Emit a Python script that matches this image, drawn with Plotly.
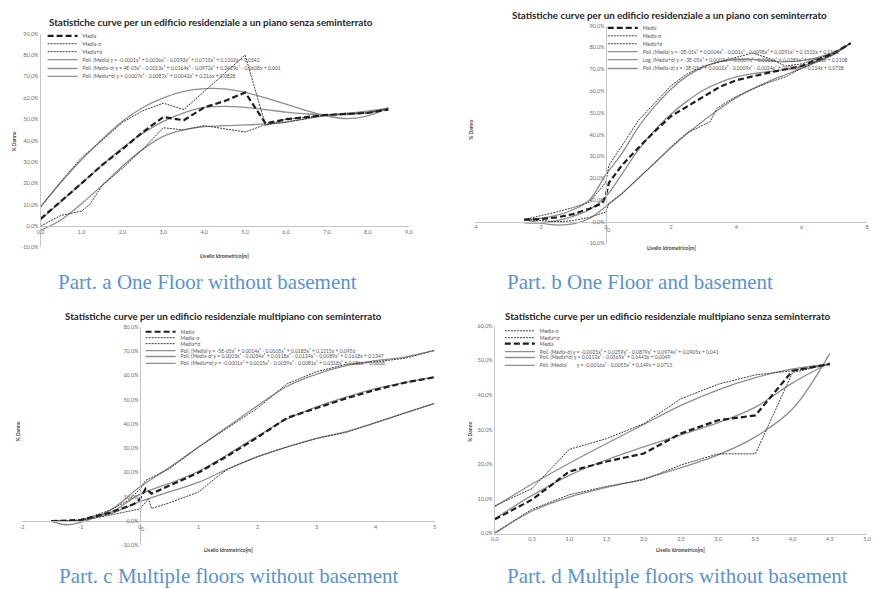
import plotly.graph_objects as go

# ---------------------------------------------------------------- data (% Danno)
# Part a
A_X_MEDIA = [0, 0.5, 1, 1.5, 2, 2.5, 3, 3.5, 4, 4.5, 5, 5.5, 6, 7, 8, 8.5]
A_MEDIA = [3.4, 11.5, 20, 28.5, 36, 44, 51, 49.5, 55.5, 58.5, 62.5, 48, 50, 52, 53, 54.5]
A_X_PLUS = [0, 0.5, 1, 1.5, 2, 2.5, 3, 3.5, 5, 5.5, 6, 7, 8, 8.5]
A_PLUS = [9, 21, 32, 40, 48.5, 54, 57.5, 54.5, 80, 47, 50, 52, 53, 55]
A_X_MINUS = [0, 0.5, 1, 1.2, 1.5, 2, 2.5, 3, 3.5, 4, 5, 5.5, 6, 7, 8, 8.5]
A_MINUS = [0, 5, 7, 10, 19, 27, 36, 46, 45, 47, 44, 47.5, 48.5, 52, 53, 55]
A_X_FIT = [0, 0.5, 1, 1.5, 2, 2.5, 3, 3.5, 4, 4.5, 5, 5.5, 6, 6.5, 7, 7.5, 8, 8.5]
A_FIT_MEDIA = [3, 11.5, 20, 28.5, 36.5, 43.5, 49, 53, 55.5, 56, 55.5, 54.5, 53.3, 52.5, 52, 52.2, 53, 54.5]
A_FIT_PLUS = [9, 20.5, 31, 40.5, 49, 55.5, 60, 63, 64.3, 64.2, 62.5, 60, 57, 54, 51.5, 50.3, 51.5, 55.5]
A_FIT_MINUS = [-2, 3, 10.5, 19, 28, 36, 42, 45, 46.5, 47, 47.3, 47.8, 48.8, 50.3, 51.8, 52.8, 53.8, 55]

# Part b
B_X_MEDIA = [-2.5, -2, -1.5, -1, -0.5, -0.1, 0, 0.1, 0.5, 1, 1.5, 2, 2.5, 3, 3.5, 4, 5, 6, 7, 7.5]
B_MEDIA = [1, 1.2, 2, 3.5, 6, 8.5, 12, 18, 26, 34, 41.5, 48.5, 53, 57.5, 62, 65, 68.5, 71.5, 77.5, 82]
B_X_PLUS = [-2.5, -2, -1.5, -1, -0.5, 0, 0.1, 0.5, 1, 1.5, 2, 2.5, 3, 3.5, 4, 4.5, 5, 5.5, 6, 7, 7.5]
B_PLUS = [1, 2.7, 4.5, 6.5, 9, 18, 26, 35, 46.5, 54.5, 62.5, 68, 71.5, 73.5, 75.5, 77.5, 75, 71.5, 72.5, 77.5, 82]
B_X_MINUS = [-2.5, -2, -1.5, -1, -0.5, 0, 0.1, 0.5, 1, 1.5, 2, 2.5, 2.8, 3.2, 3.4, 3.7, 4, 4.5, 5, 5.5, 6, 7, 7.5]
B_MINUS = [1, 0.5, 0, 0.5, 2, 4.5, 8.5, 13, 20, 27, 34.5, 41, 43, 46, 52, 55, 57.5, 61, 64, 66.5, 70.5, 77, 82]
B_X_FIT = [-2.5, -2, -1.5, -1, -0.5, 0, 0.5, 1, 1.5, 2, 2.5, 3, 3.5, 4, 4.5, 5, 5.5, 6, 6.5, 7, 7.5]
B_FIT_MEDIA = [-0.5, -0.5, 0.5, 2.5, 5.5, 11.5, 22, 33, 42, 49.5, 55.5, 60.5, 64, 66.5, 68, 69, 70, 71.5, 74, 77.5, 82]
B_FIT_PLUS = [1, 1.5, 3, 5.5, 10, 21.5, 31.5, 43.5, 53, 61, 67, 71, 73.5, 74.5, 74.5, 74, 73.5, 74, 75.5, 78, 82]
B_FIT_MINUS = [1, -0.5, -1.5, -1, 1.5, 7, 13, 20, 27, 34, 40.5, 46.5, 52, 57, 61, 64.5, 67.5, 70.5, 73.5, 77, 82]

# Part c
C_X_MEDIA = [-1.5, -1, -0.5, -0.1, 0, 0.1, 0.2, 0.5, 1, 1.5, 2, 2.5, 3, 3.5, 4, 4.5, 5]
C_MEDIA = [0, 0.5, 3.5, 7, 9, 13.3, 11.3, 14.5, 20, 27, 34.5, 42.5, 46.5, 50.5, 54, 57, 59.2]
C_X_PLUS = [-1.5, -1, -0.5, -0.2, 0, 0.1, 0.5, 1, 1.5, 2, 2.5, 2.7, 3, 3.5, 4, 4.5, 5]
C_PLUS = [0, 0.4, 4.5, 8.5, 13, 16.7, 21.5, 30.5, 38.5, 46.5, 56.5, 58.5, 61.5, 64.5, 65.5, 67, 70.2]
C_X_MINUS = [-1.5, -1, -0.5, 0, 0.15, 0.2, 0.5, 1, 1.3, 1.5, 2, 2.5, 3, 3.5, 4, 4.5, 5]
C_MINUS = [0, 0.3, 2.5, 5, 9.2, 5.2, 7.5, 12, 18, 21.5, 26.5, 30.5, 34, 36.5, 40.5, 44.5, 48.4]
C_X_FIT = [-1.5, -1.25, -1, -0.5, 0, 0.5, 1, 1.5, 2, 2.5, 3, 3.5, 4, 4.5, 5]
C_FIT_MEDIA = [0, 0, 0.5, 3.5, 11, 15.5, 20.5, 27.5, 35, 42, 47, 51, 54.5, 57, 59.2]
C_FIT_PLUS = [0, -1.5, -0.5, 4.5, 14, 22, 30.5, 39, 47.5, 55.5, 60.5, 64, 66, 67.5, 70.2]
C_FIT_MINUS = [0, 0, 0.3, 3, 8, 12, 16, 21.5, 26.5, 30.5, 34, 36.8, 40.5, 44.5, 48.4]

# Part d
D_X = [0, 0.5, 1, 1.5, 2, 2.5, 3, 3.5, 4, 4.5]
D_MEDIA = [4.1, 9.8, 17.9, 20.8, 23.1, 28.9, 32.7, 34.1, 47, 48.9]
D_PLUS = [8, 13, 24.3, 27.4, 31.7, 38.9, 43.1, 45.8, 47, 48.9]
D_MINUS = [0.3, 7, 11.2, 13.6, 15.5, 19.8, 23, 23, 46.5, 48.9]
D_FIT_MEDIA = [4.3, 11, 16.8, 21.3, 25, 28.5, 32, 36.5, 43.5, 49.3]
D_FIT_PLUS = [7.8, 14.3, 20.3, 26, 31.5, 37, 41.5, 45, 47.5, 49]
D_FIT_MINUS = [0, 6.5, 10.5, 13.3, 15.8, 19, 22.7, 27.9, 36, 52]

# tick labels
A_X_TICKS = [0, 1, 2, 3, 4, 5, 6, 7, 8, 9]
A_X_LABELS = ["0,0", "1,0", "2,0", "3,0", "4,0", "5,0", "6,0", "7,0", "8,0", "9,0"]
B_X_TICKS = [-4, -2, 0, 2, 4, 6, 8]
B_X_LABELS = ["-4", "-2", "0", "2", "4", "6", "8"]
C_X_TICKS = [-2, -1, 0, 1, 2, 3, 4, 5]
C_X_LABELS = ["-2", "-1", "0", "1", "2", "3", "4", "5"]
D_X_TICKS = [0, 0.5, 1, 1.5, 2, 2.5, 3, 3.5, 4, 4.5, 5]
D_X_LABELS = ["0,0", "0,5", "1,0", "1,5", "2,0", "2,5", "3,0", "3,5", "4,0", "4,5", "5,0"]
Y90_TICKS = [-10, 0, 10, 20, 30, 40, 50, 60, 70, 80, 90]
Y90_LABELS = ["-10,0%", "0,0%", "10,0%", "20,0%", "30,0%", "40,0%", "50,0%",
              "60,0%", "70,0%", "80,0%", "90,0%"]
Y80_TICKS = [-10, 0, 10, 20, 30, 40, 50, 60, 70, 80]
Y80_LABELS = ["-10,0%", "0,0%", "10,0%", "20,0%", "30,0%", "40,0%", "50,0%",
              "60,0%", "70,0%", "80,0%"]
Y60_TICKS = [0, 10, 20, 30, 40, 50, 60]
Y60_LABELS = ["0,0%", "10,0%", "20,0%", "30,0%", "40,0%", "50,0%", "60,0%"]

# text
TITLES = [
    "Statistiche curve per un edificio residenziale a un piano senza seminterrato",
    "Statistiche curve per un edificio residenziale a un piano con seminterrato",
    "Statistiche curve per un edificio residenziale multipiano con seminterrato",
    "Statistiche curve per un edificio residenziale multipiano senza seminterrato",
]
CAPTIONS = [
    "Part. a One Floor without basement",
    "Part. b One Floor and basement",
    "Part. c Multiple floors without basement",
    "Part. d Multiple floors without basement",
]
X_TITLE = "Livello Idrometrico[m]"
Y_TITLE = "% Danno"

EQ_A = ["y = -0,0001x⁵ + 0,0036x⁴ - 0,0293x³ + 0,0715x² + 0,1202x + 0,0342",
        "y = 4E-05x⁶ - 0,0013x⁵ + 0,0164x⁴ - 0,0972x³ + 0,2419x² - 0,0608x + 0,001",
        "y = 0,0007x⁴ - 0,0087x³ + 0,0042x² + 0,216x + 0,0828"]
EQ_B = ["y = -3E-05x⁶ + 0,0004x⁵ - 0,001x⁴ - 0,0098x³ + 0,0291x² + 0,1522x + 0,1148",
        "y = -3E-05x⁶ + 0,0003x⁵ - 0,0007x⁴ - 0,0066x³ + 0,0285x² + 0,1856x + 0,2108",
        "y = -2E-05x⁶ + 0,0002x⁵ - 0,0009x⁴ - 0,0024x³ + 0,0256x² + 0,114x + 0,0728"]
EQ_C = ["y = -5E-05x⁶ + 0,0014x⁵ - 0,0105x⁴ + 0,0183x³ + 0,1215x + 0,0956",
        "y = 0,0003x⁶ - 0,0034x⁵ + 0,0118x⁴ - 0,0124x³ - 0,0089x² + 0,1618x + 0,1347",
        "y = -0,0001x⁶ + 0,0015x⁵ - 0,0039x⁴ - 0,0081x³ + 0,0318x² + 0,086x + 0,0668"]
EQ_D = ["y = -0,0025x⁵ + 0,0259x⁴ - 0,0879x³ + 0,0974x² + 0,0905x + 0,041",
        "y = 0,0112x³ - 0,0569x² + 0,1443x + 0,0049",
        "y = -0,0016x³ - 0,0055x² + 0,149x + 0,0715"]

# ---------------------------------------------------------------- styling
W, H = 874, 589
FONT = "Lato"
TICK_SIZE = 5.5
STYLES = {
    "media": dict(color="#1e1e1e", width=2.2, dash="6px,3px"),
    "sigma": dict(color="#3c3c3c", width=1.0, dash="2px,1px"),
    "fit": dict(color="#8e8e8e", width=1.3),
}

panels = [
    dict(xdom=(37, 409), ydom=(247, 31), xr=(0, 9), yr=(-10, 90),
         xt=A_X_TICKS, xl=A_X_LABELS, yt=Y90_TICKS, yl=Y90_LABELS,
         title_xy=(209, 19), cap_xy=(206, 282), xtitle_xy=(223, 256), ytitle_xy=(10, 140),
         leg_x=44, leg_y=[33, 41, 49, 57, 66, 74], leg_font=5,
         series=[
             ("Media", A_X_MEDIA, A_MEDIA, "media"),
             ("Media-σ", A_X_MINUS, A_MINUS, "sigma"),
             ("Media+σ", A_X_PLUS, A_PLUS, "sigma"),
             ("Poli. (Media) " + EQ_A[0], A_X_FIT, A_FIT_MEDIA, "fit"),
             ("Poli. (Media-σ) " + EQ_A[1], A_X_FIT, A_FIT_MINUS, "fit"),
             ("Poli. (Media+σ) " + EQ_A[2], A_X_FIT, A_FIT_PLUS, "fit"),
         ]),
    dict(xdom=(476, 872), ydom=(243, 23), xr=(-4, 8), yr=(-10, 90),
         xt=B_X_TICKS, xl=B_X_LABELS, yt=Y90_TICKS, yl=Y90_LABELS,
         title_xy=(672, 12.5), cap_xy=(643, 282), xtitle_xy=(674, 248), ytitle_xy=(472, 128),
         leg_x=610, leg_y=[25, 33, 41, 49, 57, 66], leg_font=5,
         series=[
             ("Media", B_X_MEDIA, B_MEDIA, "media"),
             ("Media-σ", B_X_MINUS, B_MINUS, "sigma"),
             ("Media+σ", B_X_PLUS, B_PLUS, "sigma"),
             ("Poli. (Media) " + EQ_B[0], B_X_FIT, B_FIT_MEDIA, "fit"),
             ("Log. (Media+σ) " + EQ_B[1], B_X_FIT, B_FIT_PLUS, "fit"),
             ("Poli. (Media-σ) " + EQ_B[2], B_X_FIT, B_FIT_MINUS, "fit"),
         ]),
    dict(xdom=(18, 435), ydom=(548, 327), xr=(-2, 5), yr=(-10, 80),
         xt=C_X_TICKS, xl=C_X_LABELS, yt=Y80_TICKS, yl=Y80_LABELS,
         title_xy=(222, 316), cap_xy=(227, 579), xtitle_xy=(227, 553), ytitle_xy=(14, 433),
         leg_x=143, leg_y=[332, 338, 344, 351, 357, 364], leg_font=5,
         series=[
             ("Media", C_X_MEDIA, C_MEDIA, "media"),
             ("Media-σ", C_X_MINUS, C_MINUS, "sigma"),
             ("Media+σ", C_X_PLUS, C_PLUS, "sigma"),
             ("Poli. (Media) " + EQ_C[0], C_X_FIT, C_FIT_MEDIA, "fit"),
             ("Poli. (Media-σ) " + EQ_C[1], C_X_FIT, C_FIT_MINUS, "fit"),
             ("Poli. (Media+σ) " + EQ_C[2], C_X_FIT, C_FIT_PLUS, "fit"),
         ]),
    dict(xdom=(496, 872), ydom=(536, 326), xr=(0, 5), yr=(0, 60),
         xt=D_X_TICKS, xl=D_X_LABELS, yt=Y60_TICKS, yl=Y60_LABELS,
         title_xy=(671, 316), cap_xy=(681, 579), xtitle_xy=(684, 553), ytitle_xy=(470, 433),
         leg_x=506, leg_y=[331, 338, 344, 352, 358, 366], leg_font=5,
         series=[
             ("Media-σ", D_X, D_MINUS, "sigma"),
             ("Media+σ", D_X, D_PLUS, "sigma"),
             ("Media", D_X, D_MEDIA, "media"),
             ("Poli. (Media-σ) " + EQ_D[0], D_X, D_FIT_MINUS, "fit"),
             ("Poli. (Media+σ) " + EQ_D[1], D_X, D_FIT_PLUS, "fit"),
             ("Poli. (Media)        " + EQ_D[2], D_X, D_FIT_MEDIA, "fit"),
         ]),
]

fig = go.Figure()
layout = dict(
    width=W, height=H, autosize=False,
    margin=dict(l=0, r=0, t=0, b=0, pad=0),
    paper_bgcolor="white", plot_bgcolor="white",
    font=dict(family=FONT, size=6, color="#404040"),
    showlegend=True,
)
annotations = []
leg_count = 0

for i, p in enumerate(panels, start=1):
    suf = "" if i == 1 else str(i)
    xref, yref = "x" + suf, "y" + suf
    xd = [p["xdom"][0] / W, p["xdom"][1] / W]
    yd = [1 - p["ydom"][0] / H, 1 - p["ydom"][1] / H]
    xr, yr = p["xr"], p["yr"]
    common = dict(showgrid=False, zeroline=False, showline=True, linecolor="#c4c4c4",
                  linewidth=1, ticks="", tickmode="array", fixedrange=True,
                  tickfont=dict(size=TICK_SIZE, color="#6e6e6e", family=FONT))
    xaxis = dict(domain=xd, range=list(xr), tickvals=p["xt"], ticktext=p["xl"], **common)
    yaxis = dict(domain=yd, range=list(yr), tickvals=p["yt"], ticktext=p["yl"], **common)
    x_free = yr[0] < 0 < yr[1]
    y_free = xr[0] < 0 < xr[1]
    if x_free:
        xaxis.update(anchor="free", position=yd[0] + (0 - yr[0]) / (yr[1] - yr[0]) * (yd[1] - yd[0]))
    else:
        xaxis.update(anchor=yref)
    if y_free:
        yaxis.update(anchor="free", position=xd[0] + (0 - xr[0]) / (xr[1] - xr[0]) * (xd[1] - xd[0]))
    else:
        yaxis.update(anchor=xref)
    layout["xaxis" + suf] = xaxis
    layout["yaxis" + suf] = yaxis

    # plotly hides the x tick label where a crossing (free) y axis passes:
    # redraw it on the axis scale
    if x_free and y_free:
        k0 = p["xt"].index(0)
        annotations.append(dict(text=p["xl"][k0], x=0, y=0, xref=xref, yref=yref,
                                xanchor="center", yanchor="top", yshift=-4, xshift=3,
                                showarrow=False, borderpad=0,
                                font=dict(family=FONT, size=TICK_SIZE, color="#6e6e6e")))

    order = [k for k, s in enumerate(p["series"]) if s[3] == "fit"] + \
            [k for k, s in enumerate(p["series"]) if s[3] == "sigma"] + \
            [k for k, s in enumerate(p["series"]) if s[3] == "media"]
    leg_ids = {}
    for k in range(len(p["series"])):
        leg_count += 1
        lid = "legend" if leg_count == 1 else "legend%d" % leg_count
        leg_ids[k] = lid
        layout[lid] = dict(
            x=(p["leg_x"] - 5) / W, y=1 - (p["leg_y"][k] - 14.5) / H,
            xanchor="left", yanchor="top", bgcolor="rgba(0,0,0,0)", borderwidth=0,
            font=dict(size=p["leg_font"], family=FONT, color="#555555"),
            itemclick=False, itemdoubleclick=False,
        )
    for k in order:
        name, xs, ys, kind = p["series"][k]
        fig.add_trace(go.Scatter(
            x=xs, y=ys, mode="lines", name=name, line=STYLES[kind],
            line_shape="spline" if kind == "fit" else "linear",
            xaxis=xref, yaxis=yref, legend=leg_ids[k], hoverinfo="skip",
        ))

    tx, ty = p["title_xy"]
    annotations.append(dict(text=TITLES[i - 1], x=tx / W, y=1 - ty / H, xref="paper", yref="paper",
                            xanchor="center", yanchor="middle", showarrow=False,
                            font=dict(family=FONT, size=9.8, color="#262626", weight="bold")))
    cx, cy = p["cap_xy"]
    annotations.append(dict(text=CAPTIONS[i - 1], x=cx / W, y=1 - cy / H, xref="paper", yref="paper",
                            xanchor="center", yanchor="middle", showarrow=False,
                            font=dict(family="Liberation Serif", size=21, color="#5a92d2")))
    ax_, ay_ = p["xtitle_xy"]
    annotations.append(dict(text=X_TITLE, x=ax_ / W, y=1 - ay_ / H, xref="paper", yref="paper",
                            xanchor="center", yanchor="middle", showarrow=False,
                            font=dict(family=FONT, size=5, color="#404040", weight="bold")))
    ux, uy = p["ytitle_xy"]
    annotations.append(dict(text=Y_TITLE, x=ux / W, y=1 - uy / H, xref="paper", yref="paper",
                            xanchor="center", yanchor="middle", showarrow=False, textangle=-90,
                            font=dict(family=FONT, size=5, color="#404040", weight="bold")))

layout["annotations"] = annotations
fig.update_layout(**layout)
fig.write_html("out.html")
